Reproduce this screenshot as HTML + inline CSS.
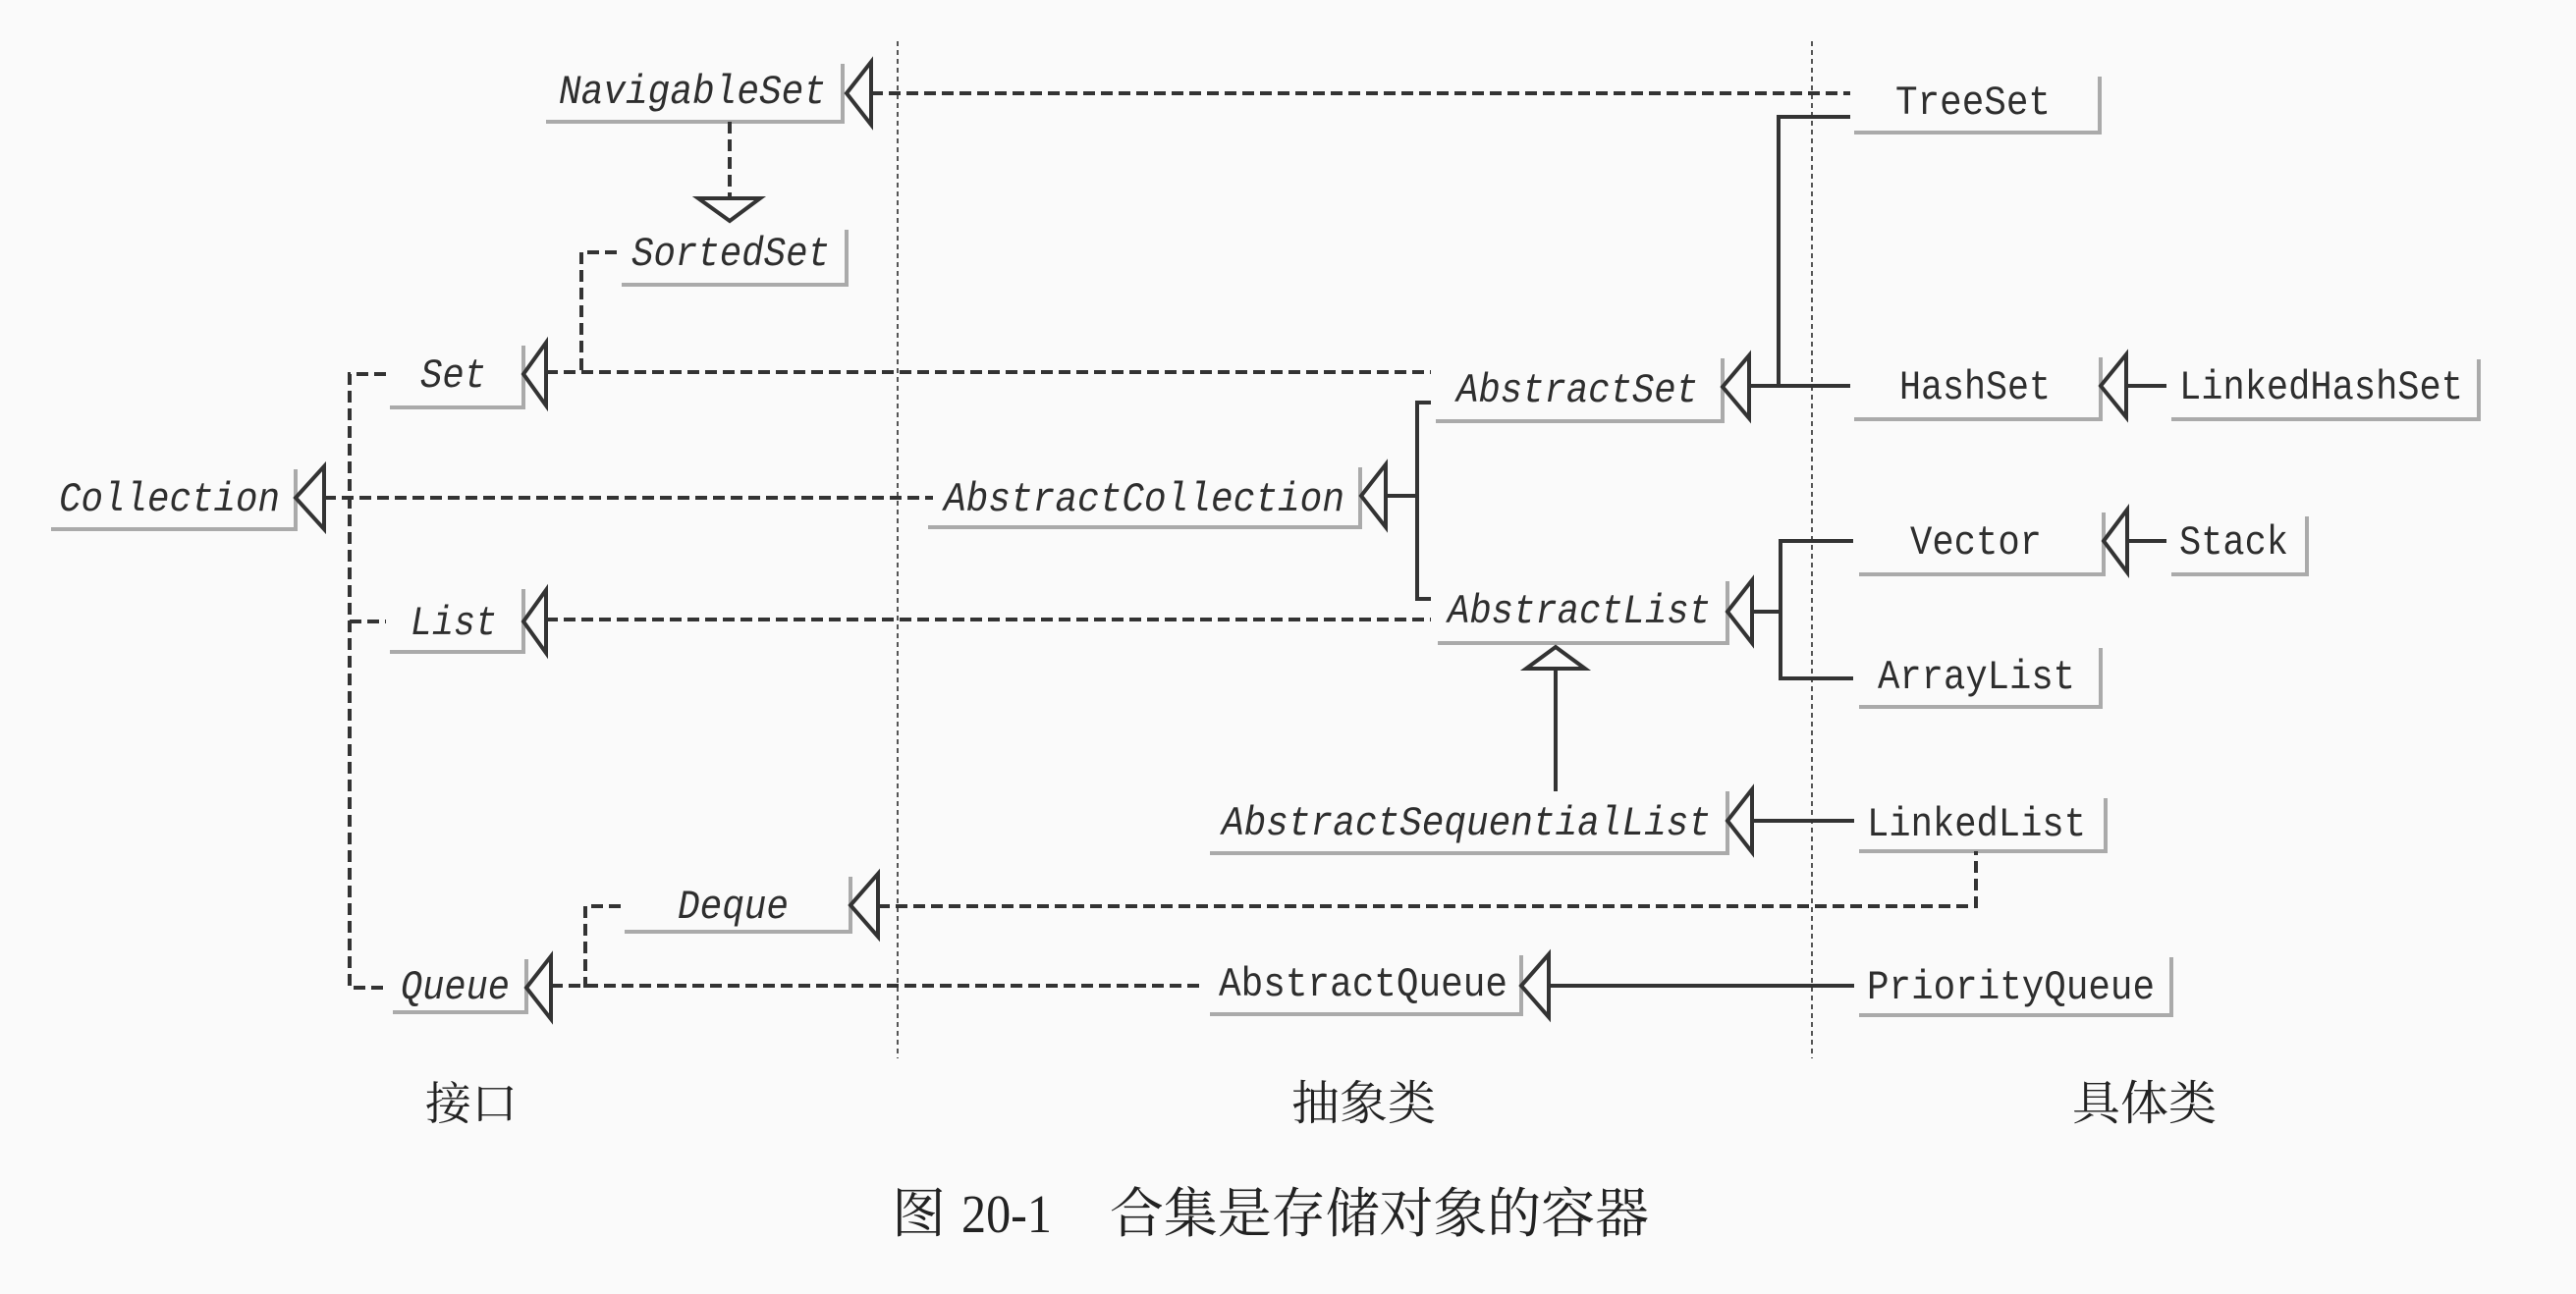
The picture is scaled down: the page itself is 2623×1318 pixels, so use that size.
<!DOCTYPE html>
<html><head><meta charset="utf-8"><style>
html,body{margin:0;padding:0;background:#fafafa;}
svg{display:block}
.m{font-family:"Liberation Mono",monospace;font-size:42px;fill:#2e2e2e;}
.i{font-style:italic}
.cj{font-family:"Liberation Serif","Noto Serif CJK SC",serif;fill:#222;}
</style></head><body>
<svg width="2623" height="1318" viewBox="0 0 2623 1318" xmlns="http://www.w3.org/2000/svg">
<rect width="2623" height="1318" fill="#fafafa"/>
<g stroke="#555" stroke-width="2" stroke-dasharray="5,4">
<line x1="914" y1="42" x2="914" y2="1078"/>
<line x1="1845" y1="42" x2="1845" y2="1078"/>
</g>
<g stroke="#aaa" stroke-width="4" fill="none">
<polyline points="556,124 858,124 858,65"/>
<polyline points="633,290 862,290 862,234"/>
<polyline points="397,415 533,415 533,352"/>
<polyline points="52,539 301,539 301,478"/>
<polyline points="397,664 533,664 533,600"/>
<polyline points="636,949 866,949 866,893"/>
<polyline points="400,1031 536,1031 536,977"/>
<polyline points="1462,429 1754,429 1754,365"/>
<polyline points="945,537 1385,537 1385,476"/>
<polyline points="1464,655 1759,655 1759,592"/>
<polyline points="1232,869 1759,869 1759,806"/>
<polyline points="1232,1033 1549,1033 1549,973"/>
<polyline points="1888,135 2138,135 2138,78"/>
<polyline points="1888,427 2139,427 2139,364"/>
<polyline points="2211,427 2524,427 2524,366"/>
<polyline points="1893,585 2142,585 2142,522"/>
<polyline points="2211,585 2349,585 2349,526"/>
<polyline points="1893,720 2139,720 2139,660"/>
<polyline points="1893,867 2144,867 2144,813"/>
<polyline points="1893,1034 2211,1034 2211,975"/>
</g>
<g stroke="#333" stroke-width="4" fill="none" stroke-dasharray="12,6">
<line x1="887" y1="95" x2="1884" y2="95"/>
<line x1="743" y1="124" x2="743" y2="202"/>
<polyline points="628,257 592,257 592,379"/>
<line x1="556" y1="379" x2="1457" y2="379"/>
<polyline points="393,381 356,381 356,1006 393,1006"/>
<line x1="356" y1="633" x2="393" y2="633"/>
<line x1="330" y1="507" x2="950" y2="507"/>
<line x1="556" y1="631" x2="1457" y2="631"/>
<polyline points="632,923 596,923 596,1006"/>
<polyline points="894,923 2012,923 2012,867"/>
<line x1="561" y1="1004" x2="1222" y2="1004"/>
</g>
<g stroke="#333" stroke-width="4" fill="none">
<polyline points="1884,119 1811,119 1811,393"/>
<line x1="1781" y1="393" x2="1884" y2="393"/>
<line x1="2165" y1="393" x2="2206" y2="393"/>
<line x1="1411" y1="505" x2="1443" y2="505"/>
<polyline points="1457,410 1443,410 1443,610 1457,610"/>
<polyline points="1887,551 1813,551 1813,691 1887,691"/>
<line x1="1784" y1="623" x2="1813" y2="623"/>
<line x1="2166" y1="551" x2="2206" y2="551"/>
<line x1="1584" y1="681" x2="1584" y2="806"/>
<line x1="1784" y1="836" x2="1888" y2="836"/>
<line x1="1577" y1="1004" x2="1888" y2="1004"/>
</g>
<g stroke="#333" stroke-width="4" fill="#fafafa" stroke-linejoin="miter">
<polygon points="862,95 887,63 887,127"/>
<polygon points="711,202 774,202 743,225"/>
<polygon points="533,381 556,349 556,413"/>
<polygon points="301,507 330,475 330,539"/>
<polygon points="533,633 556,601 556,665"/>
<polygon points="866,922 894,890 894,954"/>
<polygon points="536,1006 561,974 561,1038"/>
<polygon points="1754,394 1781,362 1781,426"/>
<polygon points="1386,505 1411,473 1411,537"/>
<polygon points="1759,623 1784,591 1784,655"/>
<polygon points="1759,836 1784,804 1784,868"/>
<polygon points="1549,1004 1577,972 1577,1036"/>
<polygon points="2139,393 2165,361 2165,425"/>
<polygon points="2142,551 2166,519 2166,583"/>
<polygon points="1554,681 1614,681 1584,659"/>
</g>
<g class="m">
<text class="i" x="569" y="105" textLength="272" lengthAdjust="spacingAndGlyphs">NavigableSet</text>
<text class="i" x="643" y="270" textLength="202" lengthAdjust="spacingAndGlyphs">SortedSet</text>
<text class="i" x="428" y="394" textLength="67" lengthAdjust="spacingAndGlyphs">Set</text>
<text class="i" x="60" y="520" textLength="225" lengthAdjust="spacingAndGlyphs">Collection</text>
<text class="i" x="418" y="646" textLength="88" lengthAdjust="spacingAndGlyphs">List</text>
<text class="i" x="690" y="935" textLength="113" lengthAdjust="spacingAndGlyphs">Deque</text>
<text class="i" x="408" y="1017" textLength="111" lengthAdjust="spacingAndGlyphs">Queue</text>
<text class="i" x="1483" y="409" textLength="246" lengthAdjust="spacingAndGlyphs">AbstractSet</text>
<text class="i" x="961" y="520" textLength="408" lengthAdjust="spacingAndGlyphs">AbstractCollection</text>
<text class="i" x="1474" y="634" textLength="268" lengthAdjust="spacingAndGlyphs">AbstractList</text>
<text class="i" x="1244" y="850" textLength="498" lengthAdjust="spacingAndGlyphs">AbstractSequentialList</text>
<text x="1241" y="1014" textLength="294" lengthAdjust="spacingAndGlyphs">AbstractQueue</text>
<text x="1930" y="116" textLength="158" lengthAdjust="spacingAndGlyphs">TreeSet</text>
<text x="1934" y="406" textLength="154" lengthAdjust="spacingAndGlyphs">HashSet</text>
<text x="2219" y="406" textLength="289" lengthAdjust="spacingAndGlyphs">LinkedHashSet</text>
<text x="1945" y="564" textLength="134" lengthAdjust="spacingAndGlyphs">Vector</text>
<text x="2219" y="564" textLength="111" lengthAdjust="spacingAndGlyphs">Stack</text>
<text x="1912" y="701" textLength="201" lengthAdjust="spacingAndGlyphs">ArrayList</text>
<text x="1901" y="851" textLength="223" lengthAdjust="spacingAndGlyphs">LinkedList</text>
<text x="1901" y="1017" textLength="293" lengthAdjust="spacingAndGlyphs">PriorityQueue</text>
</g>
<g class="cj">
<text x="433" y="1140" font-size="46" textLength="94" lengthAdjust="spacingAndGlyphs">接口</text>
<text x="1315" y="1140" font-size="48" textLength="147" lengthAdjust="spacingAndGlyphs">抽象类</text>
<text x="2110" y="1140" font-size="48" textLength="147" lengthAdjust="spacingAndGlyphs">具体类</text>
<text x="908" y="1255" font-size="55">图</text>
<text x="979" y="1255" font-size="55" textLength="92" lengthAdjust="spacingAndGlyphs">20-1</text>
<text x="1130" y="1255" font-size="55" textLength="549" lengthAdjust="spacingAndGlyphs">合集是存储对象的容器</text>
</g>
</svg>
</body></html>
